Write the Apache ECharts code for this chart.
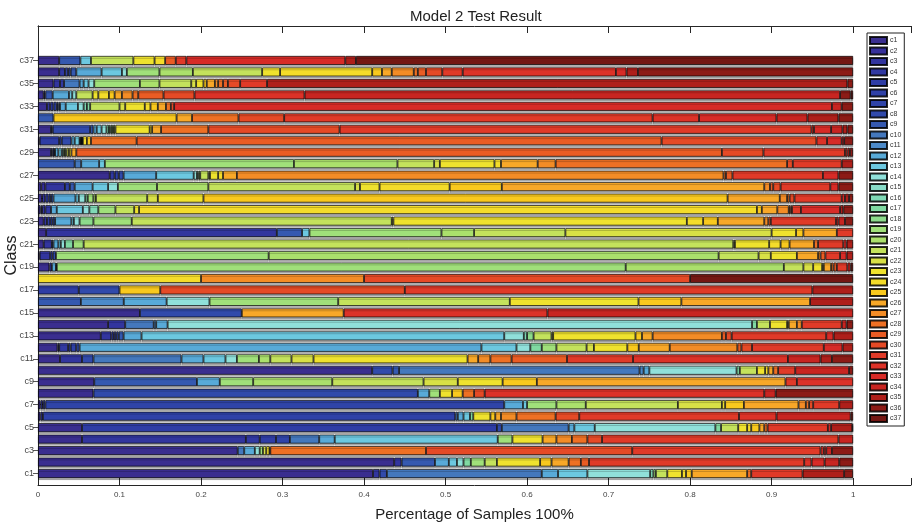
<!DOCTYPE html>
<html>
<head>
<meta charset="utf-8">
<script src="https://cdn.jsdelivr.net/npm/echarts@6/dist/echarts.min.js"></script>
<style>
    html, body { margin: 0; padding: 0; background: #fff; }
    #modelChart { width: 912px; height: 522px; }
</style>
</head>
<body>
<div id="modelChart"></div>
<script>
    // class names, c1 at the bottom of the chart
    var classNames = ['c1', 'c2', 'c3', 'c4', 'c5', 'c6', 'c7', 'c8', 'c9', 'c10', 'c11', 'c12', 'c13',
        'c14', 'c15', 'c16', 'c17', 'c18', 'c19', 'c20', 'c21', 'c22', 'c23', 'c24', 'c25', 'c26',
        'c27', 'c28', 'c29', 'c30', 'c31', 'c32', 'c33', 'c34', 'c35', 'c36', 'c37'];
    var classColors = ['#3a2e8f', '#36309a', '#32359e', '#3139a2', '#2f3da5', '#2f41a7', '#2f44a8',
        '#314aab', '#3559b0', '#4478bd', '#4c8ac9', '#58aad8', '#6cc8e0', '#90e0da', '#88dbc8',
        '#80d9b6', '#80d9a2', '#8cdb8c', '#a0e07a', '#abe06c', '#c4e25c', '#d8e046', '#efe22e',
        '#f4dc2a', '#f9c91e', '#f8a828', '#f38c26', '#ee7024', '#ea5c24', '#e54a26', '#e03a28',
        '#dc3228', '#d72b27', '#c82521', '#ae1f1a', '#8c1b16', '#741713'];
    var xTicks = [0, 10, 20, 30, 40, 50, 60, 70, 80, 90, 100];

    // each row: [predicted class, % of samples]; classes not listed are 0
    var row1 = [[1, 41.1], [3, 0.8], [8, 0.9], [10, 19.0], [12, 2.0], [13, 3.6], [14, 7.7], [16, 0.4], [19, 0.3], [21, 1.4], [23, 1.8], [24, 0.5], [25, 0.7], [26, 6.8], [28, 0.5], [31, 6.3], [35, 5.1], [36, 1.1]];
    var row2 = [[1, 43.7], [3, 0.9], [9, 4.1], [12, 1.7], [13, 1.0], [14, 0.8], [17, 0.9], [19, 1.7], [21, 1.5], [23, 5.3], [25, 1.4], [26, 2.1], [28, 1.5], [29, 1.0], [31, 26.4], [32, 0.9], [33, 1.6], [34, 1.8], [36, 1.7]];
    var row3 = [[1, 24.5], [10, 0.8], [12, 1.3], [14, 0.6], [19, 0.4], [22, 0.4], [24, 0.4], [27, 0.1], [28, 19.1], [30, 25.3], [31, 23.1], [32, 0.4], [33, 0.3], [34, 0.7], [36, 2.6]];
    var row4 = [[1, 5.4], [3, 20.1], [4, 1.7], [5, 2.0], [7, 1.7], [10, 3.6], [12, 1.9], [13, 20.0], [19, 1.8], [23, 3.7], [26, 1.7], [27, 1.9], [28, 1.9], [30, 1.8], [31, 29.0], [34, 1.8]];
    var row5 = [[1, 5.4], [5, 50.9], [8, 0.6], [10, 8.2], [12, 0.7], [13, 2.5], [14, 14.8], [17, 0.7], [21, 2.1], [23, 1.1], [24, 0.5], [25, 1.0], [26, 0.6], [28, 0.4], [31, 7.4], [33, 0.4], [35, 2.6], [36, 0.1]];
    var row6 = [[1, 0.3], [3, 0.3], [6, 50.6], [10, 0.3], [12, 0.7], [13, 0.8], [17, 0.4], [23, 2.1], [25, 0.6], [26, 0.7], [27, 1.9], [28, 4.8], [30, 2.9], [31, 19.6], [32, 4.6], [34, 9.1], [36, 0.3]];
    var row7 = [[1, 0.3], [3, 0.3], [5, 0.3], [7, 56.3], [12, 2.3], [13, 0.5], [19, 3.6], [20, 3.6], [21, 11.3], [22, 5.4], [23, 0.4], [25, 2.3], [26, 6.7], [27, 0.9], [28, 0.4], [30, 0.5], [31, 3.2], [35, 1.7]];
    var row8 = [[1, 6.8], [8, 39.8], [12, 1.4], [19, 1.3], [23, 1.5], [25, 1.3], [28, 1.4], [30, 1.3], [32, 34.3], [34, 1.4], [36, 9.5]];
    var row9 = [[1, 6.9], [9, 12.6], [12, 2.8], [19, 4.1], [20, 9.7], [21, 11.2], [22, 4.2], [23, 5.5], [25, 4.2], [26, 30.5], [31, 1.4], [32, 6.9]];
    var row10 = [[1, 41.0], [8, 2.5], [9, 0.8], [10, 29.5], [11, 0.5], [12, 0.7], [14, 10.7], [17, 0.4], [21, 2.1], [23, 1.0], [24, 0.4], [26, 0.6], [28, 0.6], [31, 2.1], [34, 6.6], [36, 0.5]];
    var row11 = [[1, 2.7], [3, 2.7], [8, 1.4], [10, 10.8], [12, 2.7], [13, 2.7], [14, 1.4], [19, 2.7], [20, 1.4], [21, 2.6], [22, 2.7], [23, 18.9], [26, 1.3], [27, 1.5], [28, 2.6], [29, 6.8], [31, 8.1], [32, 19.0], [34, 4.0], [35, 1.4], [36, 2.6]];
    var row12 = [[1, 2.4], [3, 0.2], [4, 1.1], [5, 0.3], [6, 0.7], [8, 0.4], [12, 49.3], [13, 4.3], [14, 1.7], [17, 1.4], [19, 1.8], [21, 3.7], [22, 0.9], [23, 4.1], [25, 1.4], [26, 3.8], [27, 8.3], [29, 0.5], [30, 1.3], [31, 8.8], [33, 2.3], [35, 1.3]];
    var row13 = [[1, 7.7], [3, 1.3], [5, 0.3], [6, 0.3], [8, 0.3], [9, 0.6], [12, 2.2], [13, 44.5], [14, 2.4], [16, 0.4], [18, 0.8], [21, 2.2], [22, 0.2], [23, 10.1], [25, 0.8], [26, 1.3], [27, 8.5], [29, 0.5], [30, 0.7], [31, 11.6], [33, 0.9], [35, 2.4]];
    var row14 = [[1, 8.6], [3, 2.1], [10, 3.5], [11, 0.3], [12, 1.4], [14, 71.7], [17, 0.6], [21, 1.6], [23, 2.1], [25, 0.2], [26, 1.0], [27, 0.6], [31, 4.9], [34, 0.6], [36, 0.8]];
    var row15 = [[1, 12.5], [8, 12.5], [26, 12.5], [32, 25], [34, 37.5]];
    var row16 = [[9, 5.26], [11, 5.26], [12, 5.26], [14, 5.26], [19, 15.79], [21, 21.05], [23, 15.79], [25, 5.26], [26, 15.79], [35, 5.28]];
    var row17 = [[5, 5], [8, 5], [25, 5], [30, 30], [31, 50], [35, 5]];
    var row18 = [[24, 20], [27, 20], [30, 40], [37, 20]];
    var row19 = [[1, 1.4], [4, 0.3], [12, 0.5], [13, 0.1], [19, 69.8], [20, 19.4], [21, 2.4], [22, 1.2], [23, 1.1], [24, 0.2], [26, 0.9], [28, 0.3], [29, 0.4], [31, 1.3], [34, 0.4], [36, 0.3]];
    var row20 = [[1, 0.2], [3, 1.3], [5, 0.3], [8, 0.4], [19, 26.1], [20, 55.2], [21, 4.9], [22, 1.5], [23, 3.2], [26, 2.6], [27, 0.3], [29, 0.6], [31, 1.8], [33, 0.8], [35, 0.8]];
    var row21 = [[1, 0.7], [3, 1.0], [9, 0.2], [12, 0.6], [13, 0.3], [14, 0.5], [17, 1.0], [19, 1.3], [21, 79.7], [22, 0.2], [23, 4.2], [24, 1.4], [25, 1.1], [26, 3.0], [28, 0.5], [31, 3.1], [33, 0.4], [35, 0.8]];
    var row22 = [[1, 1.0], [3, 28.3], [9, 3.1], [13, 0.9], [19, 16.2], [20, 4.0], [21, 11.2], [22, 25.3], [23, 3.0], [25, 0.9], [26, 4.1], [31, 2.0]];
    var row23 = [[1, 0.7], [3, 0.4], [5, 0.4], [6, 0.3], [8, 0.3], [12, 2.0], [13, 0.3], [14, 0.7], [18, 1.7], [19, 4.7], [21, 31.9], [22, 0.2], [23, 36.0], [24, 2.0], [25, 1.8], [26, 5.7], [27, 0.5], [29, 0.3], [31, 8.0], [33, 0.3], [34, 0.8], [36, 1.0]];
    var row24 = [[1, 0.3], [2, 0.2], [3, 0.4], [4, 0.7], [12, 0.7], [13, 3.2], [14, 0.8], [16, 1.1], [19, 2.1], [21, 2.3], [23, 0.6], [24, 75.8], [25, 0.6], [26, 1.9], [27, 1.4], [28, 0.2], [29, 0.2], [31, 1.1], [33, 4.8], [35, 0.4], [36, 1.2]];
    var row25 = [[1, 0.5], [3, 0.4], [5, 0.4], [7, 0.3], [9, 0.3], [12, 2.7], [13, 0.4], [14, 0.8], [17, 0.3], [19, 0.7], [20, 0.3], [21, 6.3], [22, 1.3], [23, 5.6], [25, 64.3], [26, 6.4], [27, 0.9], [28, 0.3], [30, 0.6], [31, 5.8], [33, 0.4], [35, 0.5], [36, 0.5]];
    var row26 = [[1, 0.4], [2, 0.5], [3, 2.4], [6, 0.6], [9, 0.6], [12, 2.2], [13, 1.9], [14, 1.2], [19, 4.8], [20, 6.3], [21, 18.0], [22, 0.6], [23, 2.4], [24, 8.6], [25, 6.4], [26, 32.2], [27, 0.7], [29, 0.4], [30, 0.9], [31, 6.1], [33, 1.0], [36, 1.8]];
    var row27 = [[1, 8.8], [4, 0.6], [6, 0.5], [8, 0.6], [12, 4.0], [13, 4.6], [14, 0.4], [18, 0.2], [19, 0.2], [21, 1.0], [22, 0.2], [23, 1.0], [24, 0.6], [26, 1.7], [27, 59.7], [28, 0.3], [29, 0.8], [31, 11.1], [33, 1.9], [36, 1.8]];
    var row28 = [[9, 4.5], [10, 0.8], [12, 2.2], [13, 0.7], [19, 23.2], [20, 12.7], [21, 4.5], [22, 0.7], [23, 6.7], [24, 0.8], [26, 4.5], [27, 2.2], [28, 28.4], [30, 0.7], [31, 6.0], [35, 1.4]];
    var row29 = [[1, 1.6], [3, 0.2], [5, 0.2], [8, 0.1], [12, 0.4], [13, 0.4], [14, 0.2], [19, 0.2], [20, 0.2], [22, 0.3], [24, 0.3], [26, 0.6], [29, 79.2], [30, 5.1], [31, 10.0], [32, 0.3], [34, 0.3], [36, 0.4]];
    var row30 = [[1, 0.2], [5, 2.4], [7, 0.3], [8, 1.2], [12, 0.4], [13, 0.6], [15, 0.1], [17, 0.1], [19, 0.1], [21, 0.1], [24, 0.5], [25, 0.5], [28, 5.6], [29, 64.4], [30, 19.0], [32, 1.3], [33, 1.8], [34, 0.3], [36, 1.1]];
    var row31 = [[1, 1.6], [4, 0.2], [8, 4.6], [9, 0.4], [12, 0.4], [13, 0.6], [14, 0.6], [17, 0.3], [18, 0.2], [19, 0.2], [20, 0.2], [21, 0.2], [23, 4.2], [24, 0.3], [26, 1.1], [28, 5.8], [30, 16.1], [31, 57.9], [32, 0.3], [33, 2.1], [34, 1.4], [35, 0.6], [36, 0.7]];
    var row32 = [[9, 1.9], [25, 15.1], [26, 1.9], [28, 5.7], [30, 5.6], [31, 45.2], [32, 5.7], [33, 9.5], [34, 3.8], [35, 3.8], [36, 1.8]];
    var row33 = [[1, 1.1], [3, 0.4], [5, 0.4], [7, 0.4], [9, 0.2], [10, 0.2], [12, 0.7], [13, 1.5], [14, 0.7], [16, 0.4], [17, 0.4], [21, 3.6], [22, 0.7], [23, 2.4], [24, 0.7], [25, 0.9], [26, 1.0], [28, 0.6], [30, 0.4], [33, 80.7], [34, 1.2], [36, 1.4]];
    var row34 = [[1, 0.7], [3, 0.2], [9, 0.9], [12, 2.0], [13, 0.4], [14, 0.5], [21, 2.0], [23, 0.7], [24, 1.3], [25, 0.7], [26, 0.9], [27, 1.3], [28, 0.7], [29, 3.1], [30, 3.8], [32, 13.5], [34, 65.7], [36, 1.3], [37, 0.3]];
    var row35 = [[1, 1.9], [3, 0.8], [4, 0.5], [10, 1.9], [12, 0.5], [13, 0.6], [14, 0.7], [19, 5.6], [20, 2.4], [21, 3.9], [22, 0.6], [23, 0.9], [25, 0.4], [26, 1.0], [27, 0.4], [28, 0.6], [29, 0.6], [30, 1.5], [31, 3.3], [35, 71.2], [36, 0.7]];
    var row36 = [[1, 2.6], [4, 0.7], [6, 0.4], [8, 0.3], [9, 0.7], [12, 3.1], [13, 2.5], [14, 0.6], [19, 4.0], [20, 4.1], [21, 8.5], [23, 2.2], [24, 11.3], [25, 1.2], [26, 1.2], [27, 2.7], [28, 0.5], [29, 1.0], [30, 2.0], [31, 2.5], [32, 18.8], [33, 1.3], [35, 1.4], [36, 26.4]];
    var row37 = [[1, 2.6], [9, 2.6], [13, 1.3], [21, 5.2], [23, 2.6], [24, 1.3], [29, 1.3], [31, 1.3], [33, 19.5], [35, 1.3], [37, 61.0]];

    var rows = [row1, row2, row3, row4, row5, row6, row7, row8, row9, row10, row11, row12, row13,
        row14, row15, row16, row17, row18, row19, row20, row21, row22, row23, row24, row25, row26,
        row27, row28, row29, row30, row31, row32, row33, row34, row35, row36, row37];

    // y categories: an empty slot below c1 and three above c37 (like ylim [0 40])
    var yCats = [''].concat(classNames).concat(['', '', '']);

    function shareOf(row, cls) {
        for (var i = 0; i < row.length; i++) {
            if (row[i][0] === cls) return row[i][1];
        }
        return '-';
    }

    function oddClass(index) {
        return index % 2 === 1 && index <= 37;
    }

    var series = classNames.map(function(name, j) {
        return {
            name: name,
            type: 'bar',
            stack: 'samples',
            barWidth: 9,
            data: yCats.map(function(c, k) {
                if (k < 1 || k > 37) return '-';
                return shareOf(rows[k - 1], j + 1);
            }),
            itemStyle: {
                color: classColors[j],
                borderColor: 'rgba(0,0,0,0.85)',
                borderWidth: 0.8,
                shadowColor: 'rgba(0,0,0,0.3)',
                shadowOffsetY: 2,
                shadowBlur: 0
            },
            emphasis: { disabled: true }
        };
    });

    var chart = echarts.init(document.getElementById('modelChart'));
    var option = {
        animation: false,
        backgroundColor: '#fff',
        textStyle: { fontFamily: 'Liberation Sans, Arial, sans-serif' },
        title: {
            text: 'Model 2 Test Result',
            left: 405,
            top: 4,
            textStyle: { fontSize: 15, fontWeight: 'normal', color: '#222' }
        },
        grid: { left: 38, right: 1, top: 26, bottom: 37, outerBoundsMode: 'none' },
        legend: {
            orient: 'vertical',
            left: 867,
            top: 33,
            icon: 'rect',
            itemWidth: 17,
            itemHeight: 7,
            itemGap: 1.5,
            padding: [3, 3, 3, 2],
            borderColor: '#222',
            borderWidth: 1,
            backgroundColor: '#fff',
            selectedMode: false,
            itemStyle: { shadowColor: 'transparent', shadowOffsetY: 0 },
            textStyle: { fontSize: 7, color: '#333', padding: [0, 0, 0, -2] },
            data: classNames
        },
        xAxis: [{
            type: 'value',
            min: 0,
            max: 107.1,
            interval: 10,
            position: 'bottom',
            splitLine: { show: false },
            axisLine: { show: true, lineStyle: { color: '#262626' } },
            axisTick: { show: true, inside: true, length: 7, lineStyle: { color: '#262626' } },
            axisLabel: {
                fontSize: 8,
                color: '#444',
                margin: 6,
                formatter: function(v) {
                    if (xTicks.indexOf(Math.round(v)) < 0 || Math.abs(v - Math.round(v)) > 0.01) return '';
                    return v === 0 ? '0' : (v === 100 ? '1' : (v / 100).toFixed(1));
                }
            },
            name: 'Percentage of Samples 100%',
            nameLocation: 'middle',
            nameGap: 22,
            nameTextStyle: { fontSize: 15, color: '#222' }
        }, {
            type: 'value',
            min: 0,
            max: 107.1,
            interval: 10,
            position: 'top',
            splitLine: { show: false },
            axisLine: { show: true, lineStyle: { color: '#262626' } },
            axisTick: { show: true, inside: true, length: 7, lineStyle: { color: '#262626' } },
            axisLabel: { show: false }
        }],
        yAxis: [{
            type: 'category',
            data: yCats,
            boundaryGap: false,
            axisLine: { show: true, lineStyle: { color: '#262626' } },
            axisTick: { show: true, inside: true, length: 5, interval: oddClass, lineStyle: { color: '#555' } },
            axisLabel: { interval: oddClass, fontSize: 9, color: '#444', margin: 4 },
            name: 'Class',
            nameLocation: 'middle',
            nameGap: 18,
            nameMoveOverlap: false,
            nameRotate: 90,
            nameTextStyle: { fontSize: 16, color: '#222' }
        }, {
            type: 'category',
            data: yCats,
            boundaryGap: false,
            position: 'right',
            axisLine: { show: true, lineStyle: { color: '#262626' } },
            axisTick: { show: true, inside: true, length: 5, interval: oddClass, lineStyle: { color: '#555' } },
            axisLabel: { show: false }
        }],
        series: series
    };
    chart.setOption(option);
</script>
</body>
</html>
